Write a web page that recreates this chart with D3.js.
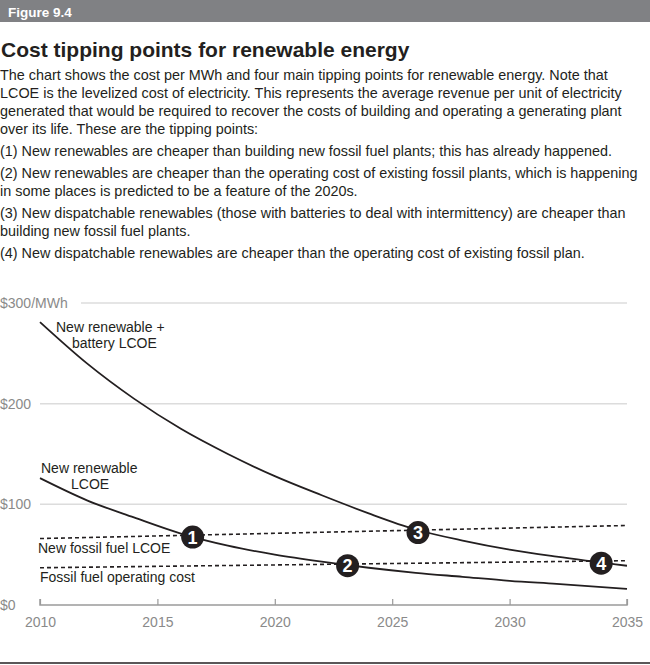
<!DOCTYPE html>
<html><head><meta charset="utf-8">
<script src="https://cdn.jsdelivr.net/npm/d3@7"></script>
<style>
body{margin:0;background:#fff;}
svg{display:block;font-family:"Liberation Sans",Arial,Helvetica,sans-serif;}
</style></head>
<body><svg id="c" width="650" height="665"></svg>
<script>
// ---- data ----
const years = [2010, 2012, 2014, 2016, 2018, 2020, 2022, 2024, 2026, 2028, 2030, 2032, 2035];
const renewBattery = [281, 240, 205, 175, 150, 128, 109, 91, 75, 64, 55, 48, 39];
const renewLCOE    = [126, 104, 87, 71, 59, 50, 43, 37, 32, 28, 24, 21, 16];
const fossilYears = [2010, 2035];
const fossilLCOE  = [66, 79];
const fossilOpCost = [37, 44];
const tipYears  = [2016.5, 2023.1, 2026.1, 2033.9];
const tipValues = [67.5, 39, 72, 41.5];
const tipLabels = ["1", "2", "3", "4"];
const xTicks = [2010, 2015, 2020, 2025, 2030, 2035];
const yTicks = [0, 100, 200, 300];
const yTickLabels = ["$0", "$100", "$200", "$300/MWh"];

const bodyLines = [
  ["The chart shows the cost per MWh and four main tipping points for renewable energy. Note that",
   "LCOE is the levelized cost of electricity. This represents the average revenue per unit of electricity",
   "generated that would be required to recover the costs of building and operating a generating plant",
   "over its life. These are the tipping points:"],
  ["(1) New renewables are cheaper than building new fossil fuel plants; this has already happened."],
  ["(2) New renewables are cheaper than the operating cost of existing fossil plants, which is happening",
   "in some places is predicted to be a feature of the 2020s."],
  ["(3) New dispatchable renewables (those with batteries to deal with intermittency) are cheaper than",
   "building new fossil fuel plants."],
  ["(4) New dispatchable renewables are cheaper than the operating cost of existing fossil plan."]
];

const svg = d3.select("#c");

// header
svg.append("rect").attr("x",0).attr("y",0).attr("width",650).attr("height",22).attr("fill","#808184");
svg.append("text").attr("x",8).attr("y",16.5).attr("fill","#fff").attr("font-weight","bold")
  .attr("font-size",13.5).text("Figure 9.4");

// title
svg.append("text").attr("x",1).attr("y",57).attr("fill","#231f20").attr("font-weight","bold")
  .attr("font-size",21).text("Cost tipping points for renewable energy");

// body
let by = 80;
bodyLines.forEach((para, pi) => {
  if (pi > 0) by += 4;
  para.forEach(line => {
    svg.append("text").attr("x",0).attr("y",by).attr("fill","#231f20").attr("font-size",14.4).text(line);
    by += 18;
  });
});

// scales
const x = d3.scaleLinear().domain([2010, 2035]).range([40, 627]);
const y = d3.scaleLinear().domain([0, 300]).range([605, 303]);

// gridlines
yTicks.filter(v => v > 0).forEach(v => {
  svg.append("line").attr("x1", v === 300 ? 81 : 40).attr("x2", 627)
    .attr("y1", y(v)).attr("y2", y(v)).attr("stroke","#dcdcdc").attr("stroke-width",1.5);
});
// y labels
yTicks.forEach((v,i) => {
  svg.append("text").attr("x",0).attr("y",y(v)+5).attr("fill","#8a8a8a").attr("font-size",14)
    .text(yTickLabels[i]);
});

// x axis
const xAxis = d3.axisBottom(x).tickValues(xTicks).tickSize(-6).tickFormat(d3.format("d"));
const ax = svg.append("g").attr("transform",`translate(0,${y(0)})`).call(xAxis);
ax.select(".domain").attr("stroke","#9a9a9a").attr("stroke-width",1.5).attr("d",`M${x(2010)},-6V0H${x(2035)}V-6`);
ax.selectAll(".tick line").attr("stroke","#9a9a9a").attr("stroke-width",1.2);
ax.selectAll(".tick text").attr("fill","#8a8a8a").attr("font-size",14).attr("dy","1.35em")
  .attr("font-family","'Liberation Sans',Arial,sans-serif");

// lines
const line = d3.line().x(d => x(d[0])).y(d => y(d[1])).curve(d3.curveMonotoneX);
svg.append("path").datum(years.map((yr,i)=>[yr, renewBattery[i]])).attr("d", line)
  .attr("fill","none").attr("stroke","#231f20").attr("stroke-width",1.8);
svg.append("path").datum(years.map((yr,i)=>[yr, renewLCOE[i]])).attr("d", line)
  .attr("fill","none").attr("stroke","#231f20").attr("stroke-width",1.8);
const lineL = d3.line().x(d => x(d[0])).y(d => y(d[1]));
svg.append("path").datum(fossilYears.map((yr,i)=>[yr, fossilLCOE[i]])).attr("d", lineL)
  .attr("fill","none").attr("stroke","#231f20").attr("stroke-width",1.6).attr("stroke-dasharray","4,3");
svg.append("path").datum(fossilYears.map((yr,i)=>[yr, fossilOpCost[i]])).attr("d", lineL)
  .attr("fill","none").attr("stroke","#231f20").attr("stroke-width",1.6).attr("stroke-dasharray","4,3");

// line labels
const lab = (t, lx, ly) => svg.append("text").attr("x",lx).attr("y",ly).attr("fill","#231f20").attr("font-size",14).text(t);
lab("New renewable +", 56, 332);
lab("battery LCOE", 72, 348);
lab("New renewable", 41, 473);
lab("LCOE", 71, 489);
lab("New fossil fuel LCOE", 38, 553);
lab("Fossil fuel operating cost", 40, 582);

// tipping points
const tp = svg.append("g").selectAll("g").data(tipYears.map((yr,i)=>({yr, v: tipValues[i], l: tipLabels[i]})))
  .join("g").attr("transform", d => `translate(${x(d.yr)},${y(d.v)})`);
tp.append("circle").attr("r",11.5).attr("fill","#231f20");
tp.append("text").attr("text-anchor","middle").attr("dy","0.36em").attr("fill","#fff")
  .attr("font-weight","bold").attr("font-size",18).text(d => d.l);

// bottom rule
svg.append("line").attr("x1",0).attr("x2",650).attr("y1",663).attr("y2",663).attr("stroke","#231f20").attr("stroke-width",1.5);
</script></body></html>
